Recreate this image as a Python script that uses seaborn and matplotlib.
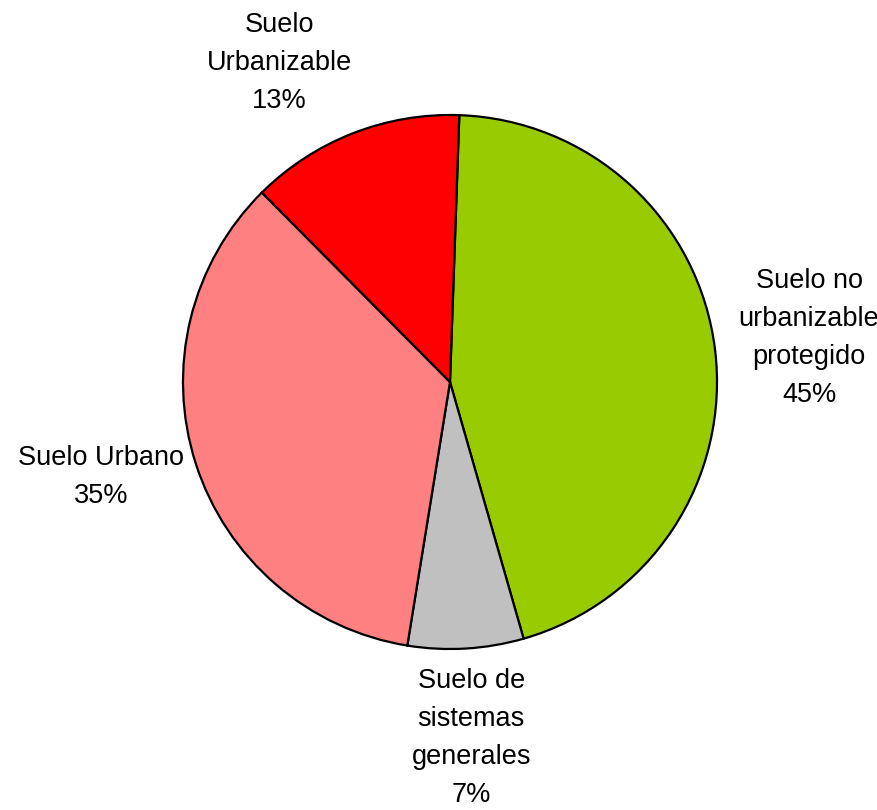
import numpy as np
import seaborn as sns
import matplotlib.pyplot as plt

sns.set_style("white")
plt.rcParams['font.family'] = ['Liberation Sans', 'DejaVu Sans']

categorias = ["Suelo no\nurbanizable\nprotegido", "Suelo de\nsistemas\ngenerales",
              "Suelo Urbano", "Suelo\nUrbanizable"]
porcentajes = [45, 7, 35, 13]
colores = ["#99CC00", "#C0C0C0", "#FF8080", "#FF0000"]

fig = plt.figure(figsize=(8.78, 8.10), dpi=100)
ax = fig.add_axes([183 / 878, 161 / 810, 534 / 878, 534 / 810])

wedges, textos = ax.pie(porcentajes, colors=colores, startangle=88, counterclock=False,
                        labels=[f"{c}\n{p}%" for c, p in zip(categorias, porcentajes)],
                        labeldistance=1.35,
                        wedgeprops=dict(edgecolor="black", linewidth=1.6),
                        textprops=dict(fontsize=19.5, linespacing=1.6, color="black"))

# ajuste de la posicion de las etiquetas (como en excel)
desfase = [0, 0, -2.5, 6.8]
dist = [1.355, 1.335, 1.355, 1.355]
for w, t, d, r in zip(wedges, textos, desfase, dist):
    ang = np.deg2rad((w.theta1 + w.theta2) / 2 + d)
    t.set_position((r * np.cos(ang), r * np.sin(ang)))
    t.set_ha("center")
    t.set_va("center")
    t.set_clip_on(False)

ax.set_xlim(-1, 1)
ax.set_ylim(-1, 1)
plt.savefig("out.png", dpi=100)
